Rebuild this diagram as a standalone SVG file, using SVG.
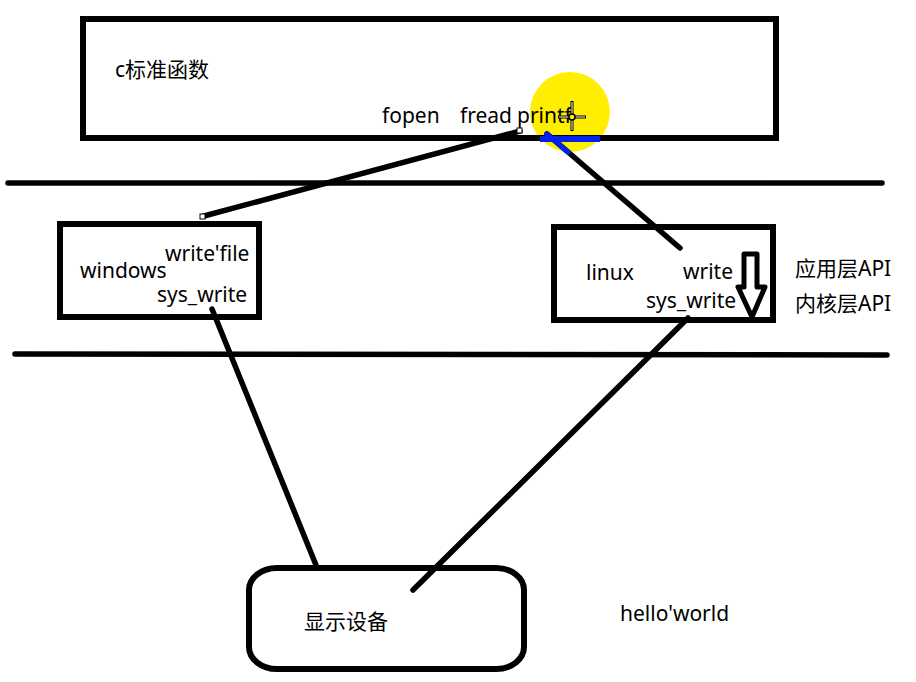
<svg xmlns="http://www.w3.org/2000/svg" width="916" height="682" viewBox="0 0 916 682">
<style>
.box{fill:none;stroke:#000;stroke-width:6}
.ln{stroke:#000;stroke-width:5.5;stroke-linecap:round;fill:none}
.t{font-family:"Microsoft YaHei","Noto Sans","Noto Sans CJK SC",sans-serif;font-size:21px;fill:#000}
</style>
<rect width="916" height="682" fill="#fff"/>
<circle cx="570" cy="112" r="40" fill="#ffee00"/>
<g id="top">
<rect class="box" x="83" y="19" width="693" height="119"/>
<text class="t" x="115" y="77">c标准函数</text>
<text class="t" x="382" y="123">fopen</text>
<text class="t" x="460" y="123">fread</text>
<text class="t" x="517" y="123">printf</text>
</g>
<g id="cursor" fill="none">
<line x1="572" y1="101" x2="572" y2="131" stroke="#000" stroke-width="3"/>
<line x1="558" y1="117" x2="586" y2="117" stroke="#000" stroke-width="3"/>
<line x1="572" y1="102" x2="572" y2="130" stroke="#fff" stroke-width="1"/>
<line x1="559" y1="117" x2="585" y2="117" stroke="#fff" stroke-width="1"/>
<circle cx="572" cy="117" r="3" fill="#ffee00" stroke="#000" stroke-width="1.5"/>
</g>
<g id="lines">
<line class="ln" x1="8" y1="183" x2="882" y2="183"/>
<line class="ln" x1="15" y1="354" x2="887" y2="355"/>
</g>
<g id="windows">
<rect class="box" x="60" y="224" width="199" height="93"/>
<text class="t" x="80" y="278">windows</text>
<text class="t" x="165" y="261">write'file</text>
<text class="t" x="157" y="302">sys_write</text>
</g>
<g id="linux">
<rect class="box" x="554" y="227" width="219" height="93"/>
<text class="t" x="586" y="280">linux</text>
<text class="t" x="683" y="279">write</text>
<text class="t" x="646" y="308">sys_write</text>
</g>
<g id="labels">
<text class="t" x="795" y="276">应用层API</text>
<text class="t" x="795" y="311">内核层API</text>
<text class="t" x="620" y="621">hello'world</text>
</g>
<g id="display">
<rect class="box" x="249" y="568" width="275" height="101" rx="28" ry="22"/>
<text class="t" x="304" y="629">显示设备</text>
</g>
<g id="connectors">
<line class="ln" x1="520" y1="131" x2="204" y2="216"/>
<rect x="517" y="128" width="5" height="5" fill="#fff" stroke="#000" stroke-width="1"/>
<rect x="200" y="214" width="5" height="5" fill="#fff" stroke="#000" stroke-width="1"/>
<line class="ln" x1="547" y1="134" x2="680" y2="248"/>
<line x1="547" y1="134" x2="568" y2="152" stroke="#0022ee" stroke-width="5.5" stroke-linecap="round"/>
<line x1="540" y1="139" x2="600" y2="139" stroke="#0022ee" stroke-width="6"/>
<line class="ln" x1="212" y1="309" x2="316" y2="565"/>
<line class="ln" x1="688" y1="318" x2="413" y2="590"/>
<path d="M744 254 L757 254 L757 287 L765 287 L752 317 L738 287 L744 287 Z" fill="none" stroke="#000" stroke-width="5" stroke-linejoin="round"/>
</g>
</svg>
